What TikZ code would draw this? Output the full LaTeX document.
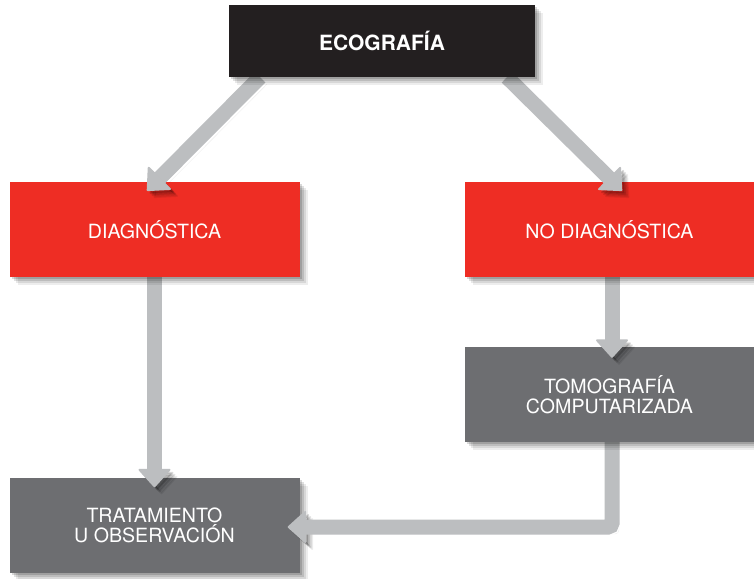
\documentclass[tikz,border=0pt]{standalone}
\usepackage{fontspec}
\setmainfont{TeX Gyre Heros}
\usetikzlibrary{arrows.meta,calc}
\definecolor{ecoblack}{HTML}{231F20}
\definecolor{ecored}{HTML}{EE2D24}
\definecolor{ecogray}{HTML}{6D6E71}
\definecolor{arrgray}{HTML}{BCBEC0}
\pgfdeclarelayer{bg}
\pgfdeclarelayer{la}
\pgfdeclarelayer{lb}
\pgfdeclarelayer{lc}
\pgfdeclarelayer{ld}
\pgfdeclarelayer{le}
\pgfdeclarelayer{lf}
\pgfsetlayers{bg,la,lb,lc,ld,le,lf,main}
\tikzset{
  softshadow/.style={
    preaction={fill=black, opacity=0.07, transform canvas={shift={(8pt,-8pt)}}},
    preaction={fill=black, opacity=0.09, transform canvas={shift={(6pt,-6pt)}}},
    preaction={fill=black, opacity=0.12, transform canvas={shift={(4pt,-4pt)}}},
    preaction={fill=black, opacity=0.15, transform canvas={shift={(2pt,-2pt)}}}},
  boxbase/.style={rectangle, inner sep=0pt, align=center, text=white,
    font=\fontsize{19.6}{20}\selectfont, softshadow},
  topbox/.style={boxbase, fill=ecoblack, minimum width=306pt, minimum height=72pt,
    font=\fontsize{21}{22}\selectfont\bfseries},
  redbox/.style={boxbase, fill=ecored, minimum width=290pt, minimum height=95pt},
  graybox/.style={boxbase, fill=ecogray, minimum width=290pt, minimum height=95pt},
  flowarr/.style={draw=arrgray, line width=15pt,
    -{Triangle[width=34pt, length=19pt, line width=2pt, round]},
    preaction={draw=black, opacity=0.07, transform canvas={shift={(7pt,-7pt)}}},
    preaction={draw=black, opacity=0.10, transform canvas={shift={(5pt,-5pt)}}},
    preaction={draw=black, opacity=0.14, transform canvas={shift={(3pt,-3pt)}}}}
}
\begin{document}
\begin{tikzpicture}[x=1pt,y=-1pt]
\begin{pgfonlayer}{bg}
\path[use as bounding box, fill=white] (0,0) rectangle (754,578);
\end{pgfonlayer}
\begin{pgfonlayer}{la}
\node[graybox] (trat) at (154.5,525) {TRATAMIENTO\\U OBSERVACIÓN};
\end{pgfonlayer}
\begin{pgfonlayer}{lc}
\node[graybox, minimum width=289pt] (tomo) at (609.5,394.5) {TOMOGRAFÍA\\COMPUTARIZADA};
\end{pgfonlayer}
\begin{pgfonlayer}{le}
\node[redbox] (diag) at (154.5,229.5) {DIAGNÓSTICA};
\node[redbox, minimum width=289pt] (nodiag) at (609.5,229.5) {NO DIAGNÓSTICA};
\end{pgfonlayer}
\node[topbox] (eco) at (382,41) {ECOGRAFÍA};
\begin{pgfonlayer}{lb}
\draw[flowarr, rounded corners=4pt] ([xshift=2.5pt]tomo.south) |- ([xshift=-12pt,yshift=-2pt]trat.east);
\end{pgfonlayer}
\begin{pgfonlayer}{ld}
\draw[flowarr] (diag.south) -- ([yshift=-10pt]trat.north);
\draw[flowarr] ([xshift=2.5pt]nodiag.south) -- ([xshift=2.5pt,yshift=-11pt]tomo.north);
\end{pgfonlayer}
\begin{pgfonlayer}{lf}
\draw[flowarr] ([xshift=-122pt]eco.south) -- ([xshift=-7.5pt,yshift=-9pt]diag.north);
\draw[flowarr] ([xshift=125pt]eco.south) -- ([xshift=12.5pt,yshift=-9pt]nodiag.north);
\end{pgfonlayer}
\end{tikzpicture}
\end{document}
